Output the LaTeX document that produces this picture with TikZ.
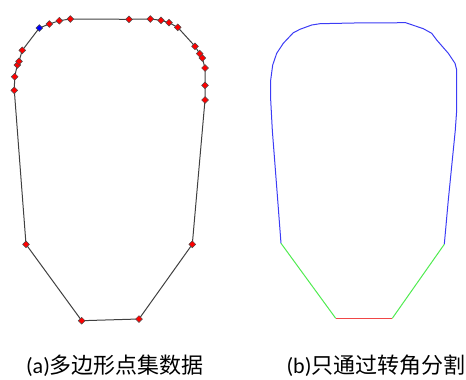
\documentclass[tikz,border=0pt]{standalone}
\usepackage{fontspec}
\setmainfont{Carlito}
\newfontfamily\cjk{Noto Sans CJK SC}
\usetikzlibrary{shapes.geometric}
\definecolor{lgreen}{RGB}{80,235,80}
\definecolor{lred}{RGB}{240,70,70}
\definecolor{lblue}{RGB}{60,60,245}
\begin{document}
\begin{tikzpicture}[x=1pt,y=-1pt,
  pt/.style={diamond,draw=black!70,fill=red,inner sep=0pt,minimum size=7pt,line width=0.5pt},
  bpt/.style={pt,fill=blue},
  poly/.style={draw=black!75,line width=1pt},
  captext/.style={font=\fontsize{22}{26}\selectfont,inner sep=0pt}]
\useasboundingbox (0,0) rectangle (466,380);
% (a) polygon
\foreach \n/\x/\y in {p1/26/244.3,p2/14.3/90.3,p3/14.7/76.7,p4/17.3/65,p5/19/61.3,p6/22.3/50.3,p7/39.3/28,p8/49.3/24,p9/59.3/20.7,p10/70.3/19,p11/129/19.3,p12/150.3/19,p13/161/20.3,p14/169/22.7,p15/177.7/27.3,p16/195/46.3,p17/199.7/53.7,p18/202.3/58,p19/205/68,p20/205/85.3,p21/205/100,p22/192.3/244.3,p23/139/319,p24/81.7/320.7}
  \coordinate (\n) at (\x,\y);
\draw[poly] (p1) -- (p2) -- (p3) -- (p4) -- (p5) -- (p6) -- (p7) -- (p8) -- (p9) -- (p10) -- (p11) -- (p12) -- (p13) -- (p14) -- (p15) -- (p16) -- (p17) -- (p18) -- (p19) -- (p20) -- (p21) -- (p22) -- (p23) -- (p24) -- cycle;
\foreach \n in {p1,p2,p3,p4,p5,p6,p8,p9,p10,p11,p12,p13,p14,p15,p16,p17,p18,p19,p20,p21,p22,p23,p24}
  \node[pt] at (\n) {};
\node[bpt] at (p7) {};
% (b) segmented outline
\foreach \n/\x/\y in {q1/281/243.3,q2/277.7/200,q3/272.3/130,q4/270.7/100,q5/270.7/80,q6/272.7/65,q7/276.7/53.3,q8/283.3/43.3,q9/293.3/32.7,q10/300/29.3,q11/311.7/25,q12/320/23.7,q13/354/23,q14/405.7/22.7,q15/413.3/25.3,q16/423.3/28.7,q17/431.7/33.3,q18/436.7/40,q19/448.3/53.3,q20/455/63.3,q21/456.7/70,q22/456.7/110,q23/455.3/130,q24/448.3/200,q25/444.3/244.3,q26/392.3/318.3,q27/335.7/318.3}
  \coordinate (\n) at (\x,\y);
\draw[lblue,line width=1pt] (q1) -- (q2) -- (q3) -- (q4) -- (q5) -- (q6) -- (q7) -- (q8) -- (q9) -- (q10) -- (q11) -- (q12) -- (q13) -- (q14) -- (q15) -- (q16) -- (q17) -- (q18) -- (q19) -- (q20) -- (q21) -- (q22) -- (q23) -- (q24) -- (q25);
\draw[lgreen,line width=1pt] (q25) -- (q26);
\draw[lgreen,line width=1pt] (q27) -- (q1);
\draw[lred,line width=1pt] (q26) -- (q27);
% captions
\node[captext] (ca) at (115,366) {(a){\cjk 多边形点集数据}};
\node[captext] (cb) at (376,366) {(b){\cjk 只通过转角分割}};
\end{tikzpicture}
\end{document}
